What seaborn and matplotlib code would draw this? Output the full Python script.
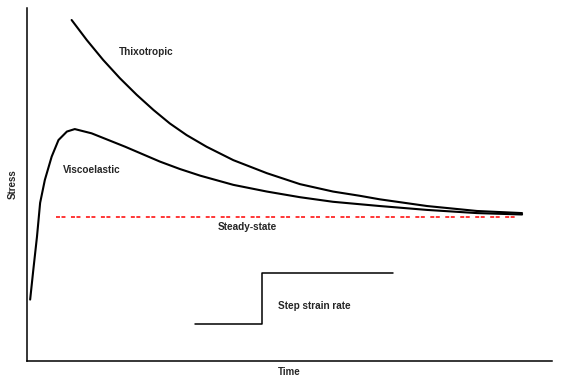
import numpy as np
import pandas as pd
import matplotlib
matplotlib.use("Agg")
import matplotlib.pyplot as plt
import seaborn as sns

# values (arbitrary units, axes run 0-100)
thixo_x = [8.5, 11.4, 14.5, 17.7, 20.9, 24.1, 27.2, 30.4, 34.2, 39.3, 45.7, 52.0, 58.3, 63.4, 67.2, 76.2, 85.7, 94.3]
thixo_y = [96.6, 90.9, 85.3, 80.1, 75.4, 71.1, 67.3, 64.0, 60.7, 56.9, 53.2, 50.1, 48.0, 46.8, 45.8, 43.9, 42.5, 41.9]

visco_x = [0.6, 1.2, 1.9, 2.5, 3.4, 4.7, 6.0, 7.6, 9.1, 12.3, 15.5, 18.7, 25.3, 29.1, 33.0, 39.3, 45.7, 52.0, 58.3, 67.2, 76.2, 85.7, 94.3]
visco_y = [17.4, 25.8, 35.2, 44.8, 51.3, 57.9, 62.6, 65.0, 65.7, 64.5, 62.6, 60.7, 56.5, 54.4, 52.5, 49.9, 48.0, 46.4, 45.1, 43.9, 42.8, 41.9, 41.5]

steady_x = [5.5, 93.5]
steady_y = [40.7, 40.7]

step_x = [32.0, 44.8, 69.7]
step_y = [10.5, 24.9, 24.9]

labels = ["Thixotropic", "Viscoelastic", "Steady-state", "Step strain rate"]
label_x = [22.7, 12.3, 41.9, 54.7]
label_y = [87.4, 54.1, 38.0, 15.6]

sns.set_style("white")
plt.rcParams["font.family"] = ["Liberation Sans", "DejaVu Sans"]
plt.rcParams["font.weight"] = "bold"

fig = plt.figure(figsize=(5.63, 3.83), dpi=100)
ax = fig.add_axes([27 / 563, 22 / 383, 525 / 563, 353 / 383])

thixo = pd.DataFrame({"t": thixo_x, "s": thixo_y})
visco = pd.DataFrame({"t": visco_x, "s": visco_y})
steady = pd.DataFrame({"t": steady_x, "s": steady_y})
step = pd.DataFrame({"t": step_x, "s": step_y})

sns.lineplot(data=thixo, x="t", y="s", color="black", lw=1.5, estimator=None, sort=False, ax=ax)
sns.lineplot(data=visco, x="t", y="s", color="black", lw=1.5, estimator=None, sort=False, ax=ax)
# red steady-state line, dashes in pairs
sns.lineplot(data=steady, x="t", y="s", color="red", lw=1.1, estimator=None,
             linestyle=(0, (2.6, 1.0, 2.6, 3.6)), ax=ax)
sns.lineplot(data=step, x="t", y="s", color="black", lw=1.1, estimator=None,
             drawstyle="steps-post", ax=ax)

for txt, lx, ly in zip(labels, label_x, label_y):
    ax.text(lx, ly, txt, ha="center", va="center", fontsize=7.2, fontweight="bold")

ax.set_xlim(0, 100)
ax.set_ylim(0, 100)
ax.set_xticks([])
ax.set_yticks([])
ax.set_xlabel("Time", fontsize=7, fontweight="bold", labelpad=4)
ax.set_ylabel("Stress", fontsize=7, fontweight="bold", labelpad=7)
sns.despine(ax=ax)
for sp in ["left", "bottom"]:
    ax.spines[sp].set_linewidth(1.1)
    ax.spines[sp].set_color("black")

fig.savefig("out.png", dpi=100)
